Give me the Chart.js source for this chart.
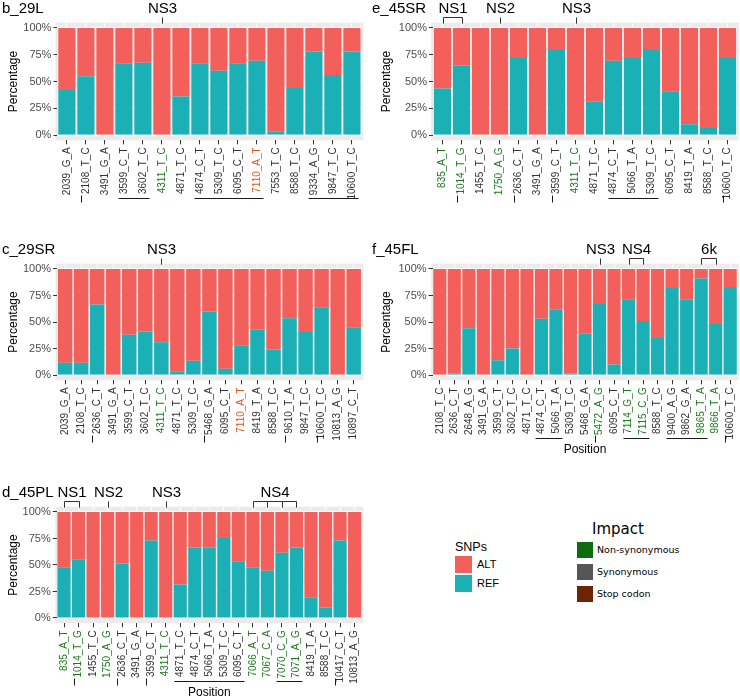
<!DOCTYPE html>
<html>
<head>
<meta charset="utf-8">
<script src="https://cdn.jsdelivr.net/npm/chart.js@4.4.1/dist/chart.umd.min.js"></script>
<style>
  html, body { margin: 0; padding: 0; background: #fff; overflow: hidden; }
  body { width: 740px; height: 699px; position: relative; font-family: "Liberation Sans", Arial, sans-serif; }
  canvas { position: absolute; }
  .lg { position: absolute; white-space: nowrap; color: #000; }
  .key { position: absolute; }
</style>
</head>
<body>
<canvas id="b29L"></canvas>
<canvas id="e45SR"></canvas>
<canvas id="c29SR"></canvas>
<canvas id="f45FL"></canvas>
<canvas id="d45PL"></canvas>
<div id="legend"></div>
<script>
// y axis ticks (percent)
const yTickValues = [0, 25, 50, 75, 100];

// b_29L
const b29L_labels = ['2039_G_A', '2108_T_C', '3491_G_A', '3599_C_T', '3602_T_C', '4311_T_C', '4871_T_C', '4874_C_T',
    '5309_T_C', '6095_C_T', '7110_A_T', '7553_T_C', '8588_T_C', '9334_A_G', '9847_T_C', '10600_T_C'];
const b29L_impact = ['S', 'S', 'S', 'S', 'S', 'N', 'S', 'S', 'S', 'S', 'X', 'S', 'S', 'S', 'S', 'S'];
const b29L_ref = [42, 55, 0, 67, 67.5, 0, 36, 67, 60, 67, 69.5, 3, 44, 78, 56, 78];
const b29L_alt = [58, 45, 100, 33, 32.5, 100, 64, 33, 40, 33, 30.5, 97, 56, 22, 44, 22];
const b29L_genes = [[2], [4, 5], [8, 9, 10, 11], [14, 15, 16]];
const b29L_marks = [{ text: 'NS3', bars: [6] }];

// c_29SR
const c29SR_labels = ['2039_G_A', '2108_T_C', '2636_C_T', '3491_G_A', '3599_C_T', '3602_T_C', '4311_T_C', '4871_T_C',
    '5309_T_C', '5468_G_A', '6095_C_T', '7110_A_T', '8419_T_A', '8588_T_C', '9610_T_A', '9847_T_C', '10600_T_C',
    '10813_A_G', '10897_C_T'];
const c29SR_impact = ['S', 'S', 'S', 'S', 'S', 'S', 'N', 'S', 'S', 'S', 'S', 'X', 'S', 'S', 'S', 'S', 'S', 'S', 'S'];
const c29SR_ref = [11.5, 11.5, 66.5, 0, 38, 41, 31, 3.5, 13.5, 60, 6, 28, 43, 24, 53.5, 40.5, 64, 0, 44.5];
const c29SR_alt = [88.5, 88.5, 33.5, 100, 62, 59, 69, 96.5, 86.5, 40, 94, 72, 57, 76, 46.5, 59.5, 36, 100, 55.5];
const c29SR_genes = [[3], [10], [15], [17]];
const c29SR_marks = [{ text: 'NS3', bars: [7] }];

// d_45PL
const d45PL_labels = ['835_A_T', '1014_T_G', '1455_T_C', '1750_A_G', '2636_C_T', '3491_G_A', '3599_C_T', '4311_T_C',
    '4871_T_C', '4874_C_T', '5066_T_A', '5309_T_C', '6095_C_T', '7066_A_T', '7067_C_A', '7070_C_G', '7071_A_G',
    '8419_T_A', '8588_T_C', '10417_C_T', '10813_A_G'];
const d45PL_impact = ['N', 'N', 'S', 'N', 'S', 'S', 'S', 'N', 'S', 'S', 'S', 'S', 'S', 'N', 'N', 'N', 'N', 'S', 'S', 'S', 'S'];
const d45PL_ref = [47.5, 55.5, 0, 0, 51.5, 0, 73, 0, 31.5, 66.5, 66.5, 75.5, 53.5, 47.5, 44.5, 61.5, 66.5, 19, 10, 73, 0];
const d45PL_alt = [52.5, 44.5, 100, 100, 48.5, 100, 27, 100, 68.5, 33.5, 33.5, 24.5, 46.5, 52.5, 55.5, 38.5, 33.5, 81, 90, 27, 100];
const d45PL_genes = [[2], [5], [7], [9, 10, 11, 12, 13], [16, 17], [20]];
const d45PL_marks = [{ text: 'NS1', bars: [1, 2] }, { text: 'NS2', bars: [4] }, { text: 'NS3', bars: [8] },
    { text: 'NS4', bars: [14, 15, 16, 17] }];

// e_45SR
const e45SR_labels = ['835_A_T', '1014_T_G', '1455_T_C', '1750_A_G', '2636_C_T', '3491_G_A', '3599_C_T', '4311_T_C',
    '4871_T_C', '4874_C_T', '5066_T_A', '5309_T_C', '6095_C_T', '8419_T_A', '8588_T_C', '10600_T_C'];
const e45SR_impact = ['N', 'N', 'S', 'N', 'S', 'S', 'S', 'N', 'S', 'S', 'S', 'S', 'S', 'S', 'S', 'S'];
const e45SR_ref = [43.5, 65, 0, 0, 72, 0, 79.5, 0, 31, 69.5, 72, 79.5, 40.5, 10, 6.5, 72];
const e45SR_alt = [56.5, 35, 100, 100, 28, 100, 20.5, 100, 69, 30.5, 28, 20.5, 59.5, 90, 93.5, 28];
const e45SR_genes = [[2], [5], [7], [10, 11, 12], [16]];
const e45SR_marks = [{ text: 'NS1', bars: [1, 2] }, { text: 'NS2', bars: [4] }, { text: 'NS3', bars: [8] }];

// f_45FL
const f45FL_labels = ['2108_T_C', '2636_C_T', '2648_A_G', '3491_G_A', '3599_C_T', '3602_T_C', '4871_T_C', '4874_C_T',
    '5066_T_A', '5309_T_C', '5468_G_A', '5472_A_G', '6095_C_T', '7114_G_T', '7115_C_G', '8588_T_C', '9400_A_G',
    '9862_G_A', '9865_T_A', '9866_T_A', '10600_T_C'];
const f45FL_impact = ['S', 'S', 'S', 'S', 'S', 'S', 'S', 'S', 'S', 'S', 'S', 'N', 'S', 'N', 'N', 'S', 'S', 'S', 'N', 'N', 'S'];
const f45FL_ref = [0, 1.5, 44, 0, 14, 25, 0, 53, 62, 1.5, 39, 67, 10, 71, 51, 35, 82, 71, 91, 48, 83];
const f45FL_alt = [100, 98.5, 56, 100, 86, 75, 100, 47, 38, 98.5, 61, 33, 90, 29, 49, 65, 18, 29, 9, 52, 17];
const f45FL_genes = [[8, 9], [12], [14, 15], [17, 18, 19], [21]];
const f45FL_marks = [{ text: 'NS3', bars: [12] }, { text: 'NS4', bars: [14, 15] }, { text: '6k', bars: [19, 20] }];

// legends
const snpLegend = ['ALT', 'REF'];
const impactLegend = ['Non-synonymous', 'Synonymous', 'Stop codon'];

const COL_ALT = '#F35F5A';
const COL_REF = '#1BB0B5';
const LABEL_COLOURS = { N: '#1B7A1B', S: '#333333', X: '#E0541F' };
const IMPACT_COLOURS = ['#0E6B0E', '#565656', '#6B2506'];
const FONT = '"Liberation Sans", Arial, sans-serif';

// panel placement on the page (grey panel x extent, y pixel of 100% / 0%)
const boxes = {
    b29L: { left: 0, top: 0, width: 370, height: 240, gl: 55.5, gr: 363.3, y100: 28, y0: 135, titlePad: 6 },
    e45SR: { left: 370, top: 0, width: 370, height: 240, gl: 431.1, gr: 738.9, y100: 28, y0: 135, titlePad: 9 },
    c29SR: { left: 0, top: 240, width: 370, height: 240, gl: 55.5, gr: 363.3, y100: 269, y0: 375, titlePad: 6 },
    f45FL: { left: 370, top: 240, width: 370, height: 240, gl: 431.1, gr: 738.9, y100: 269, y0: 375, titlePad: 9, xTitlePad: 24 },
    d45PL: { left: 0, top: 480, width: 370, height: 219, gl: 55.3, gr: 363.3, y100: 512, y0: 618, titlePad: 6, xTitlePad: 0 }
};

const panelDecor = {
    id: 'panelDecor',
    beforeDraw(chart, args, opts) {
        const { ctx, chartArea: a } = chart;
        const band = (a.right - a.left) / opts.n;
        ctx.save();
        ctx.fillStyle = '#EBEBEB';
        ctx.fillRect(a.left - 0.1 * band, a.top, a.right - a.left + 0.2 * band, a.bottom - a.top);
        ctx.restore();
    },
    afterDraw(chart, args, opts) {
        const { ctx, chartArea: a, scales: { x } } = chart;
        const px = i => Math.round(x.getPixelForValue(i - 1)) + 0.5;
        ctx.save();
        ctx.fillStyle = '#000';
        ctx.font = '15px ' + FONT;
        ctx.textBaseline = 'middle';
        ctx.textAlign = 'left';
        ctx.fillText(opts.title, 2, a.top - 14);

        // gene brackets above the panel
        ctx.strokeStyle = '#333';
        ctx.lineWidth = 1;
        ctx.textAlign = 'center';
        const top = Math.round(a.top - 6) + 0.5;
        const bot = a.top + 1;
        opts.marks.forEach(m => {
            const xs = m.bars.map(px);
            ctx.beginPath();
            xs.forEach(v => { ctx.moveTo(v, top); ctx.lineTo(v, bot); });
            if (xs.length > 1) {
                ctx.moveTo(xs[0], top);
                ctx.lineTo(xs[xs.length - 1], top);
            }
            ctx.stroke();
            ctx.fillText(m.text, (xs[0] + xs[xs.length - 1]) / 2, a.top - 14);
        });

        // underlines below the position labels
        const u = Math.round(a.bottom + 58) + 0.5;
        ctx.strokeStyle = '#1a1a1a';
        ctx.beginPath();
        opts.genes.forEach(g => {
            const x0 = px(g[0]);
            const x1 = px(g[g.length - 1]);
            if (g.length === 1) {
                ctx.moveTo(x0 - 5, u - 3);
                ctx.lineTo(x0 - 5, u + 4);
            } else {
                ctx.moveTo(x0 - 6, u);
                ctx.lineTo(x1 + 6, u);
            }
        });
        ctx.stroke();
        ctx.restore();
    }
};

function drawPanel(id, title, labels, impact, ref, alt, genes, marks) {
    const box = boxes[id];
    const n = labels.length;
    const band = (box.gr - box.gl) / (n + 0.2);
    const areaLeft = box.gl + 0.1 * band - box.left;
    const areaRight = box.gr - 0.1 * band - box.left;
    const span = box.y0 - box.y100;
    const areaTop = box.y100 - 0.05 * span - box.top;
    const areaBottom = box.y0 + 0.05 * span - box.top;
    const showXTitle = box.xTitlePad !== undefined;

    const canvas = document.getElementById(id);
    canvas.width = box.width;
    canvas.height = box.height;
    canvas.style.left = box.left + 'px';
    canvas.style.top = box.top + 'px';

    return new Chart(canvas.getContext('2d'), {
        type: 'bar',
        data: {
            labels: labels,
            datasets: [
                { label: 'REF', data: ref, backgroundColor: COL_REF, borderWidth: 0 },
                { label: 'ALT', data: alt, backgroundColor: COL_ALT, borderWidth: 0 }
            ]
        },
        options: {
            responsive: false,
            animation: false,
            events: [],
            datasets: { bar: { categoryPercentage: 1, barPercentage: 0.9 } },
            layout: {
                autoPadding: false,
                padding: { left: 0, top: areaTop, right: box.width - areaRight, bottom: 0 }
            },
            plugins: {
                legend: { display: false },
                tooltip: { enabled: false },
                panelDecor: { title: title, n: n, genes: genes, marks: marks }
            },
            scales: {
                x: {
                    stacked: true,
                    offset: true,
                    grid: { color: '#FFFFFF', lineWidth: 1, offset: false, tickColor: '#333333', tickLength: 4 },
                    border: { display: false },
                    ticks: {
                        autoSkip: false,
                        minRotation: 90,
                        maxRotation: 90,
                        padding: 3,
                        font: { family: FONT, size: 10 },
                        color: c => LABEL_COLOURS[impact[c.index]]
                    },
                    title: {
                        display: showXTitle,
                        text: 'Position',
                        color: '#000',
                        font: { family: FONT, size: 12, lineHeight: 1 },
                        padding: { top: 0, bottom: box.xTitlePad || 0 }
                    },
                    afterFit: s => {
                        s.height = box.height - areaBottom;
                        s.paddingLeft = 0;
                        s.paddingRight = 0;
                    }
                },
                y: {
                    stacked: true,
                    min: -5,
                    max: 105,
                    afterBuildTicks: s => { s.ticks = yTickValues.map(v => ({ value: v })); },
                    grid: { color: '#FFFFFF', lineWidth: 1, tickColor: '#333333', tickLength: 4 },
                    border: { display: false },
                    ticks: {
                        padding: 2,
                        font: { family: FONT, size: 11 },
                        color: '#4D4D4D',
                        callback: v => v + '%'
                    },
                    title: {
                        display: true,
                        text: 'Percentage',
                        color: '#000',
                        font: { family: FONT, size: 12, lineHeight: 1.2 },
                        padding: { top: box.titlePad, bottom: 0 }
                    },
                    afterFit: s => {
                        s.width = areaLeft;
                        s.paddingTop = 0;
                        s.paddingBottom = 0;
                    }
                }
            }
        },
        plugins: [panelDecor]
    });
}

drawPanel('b29L', 'b_29L', b29L_labels, b29L_impact, b29L_ref, b29L_alt, b29L_genes, b29L_marks);
drawPanel('e45SR', 'e_45SR', e45SR_labels, e45SR_impact, e45SR_ref, e45SR_alt, e45SR_genes, e45SR_marks);
drawPanel('c29SR', 'c_29SR', c29SR_labels, c29SR_impact, c29SR_ref, c29SR_alt, c29SR_genes, c29SR_marks);
drawPanel('f45FL', 'f_45FL', f45FL_labels, f45FL_impact, f45FL_ref, f45FL_alt, f45FL_genes, f45FL_marks);
drawPanel('d45PL', 'd_45PL', d45PL_labels, d45PL_impact, d45PL_ref, d45PL_alt, d45PL_genes, d45PL_marks);

// legends (plain html)
function addDiv(parent, cls, css, text) {
    const el = document.createElement('div');
    el.className = cls;
    el.style.cssText = css;
    if (text) el.textContent = text;
    parent.appendChild(el);
    return el;
}
const legend = document.getElementById('legend');
addDiv(legend, 'lg', 'left:455px;top:540px;font-size:12.5px;line-height:14px;', 'SNPs');
[COL_ALT, COL_REF].forEach((col, i) => {
    const y = 556 + i * 19;
    addDiv(legend, 'key', `left:455px;top:${y}px;width:17px;height:17px;background:${col};`);
    addDiv(legend, 'lg', `left:477px;top:${y}px;font-size:11px;line-height:17px;`, snpLegend[i]);
});
addDiv(legend, 'lg', 'left:592px;top:520px;font:15px "DejaVu Sans", sans-serif;line-height:18px;', 'Impact');
IMPACT_COLOURS.forEach((col, i) => {
    const y = 542 + i * 22;
    addDiv(legend, 'key', `left:577px;top:${y}px;width:16px;height:16px;background:${col};`);
    addDiv(legend, 'lg', `left:597px;top:${y}px;font:9.5px "DejaVu Sans", sans-serif;line-height:16px;`, impactLegend[i]);
});
</script>
</body>
</html>
